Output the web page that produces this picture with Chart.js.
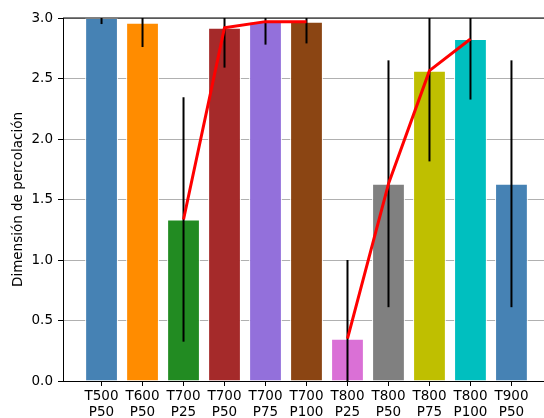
<!DOCTYPE html>
<html>
<head>
<meta charset="utf-8">
<script src="https://cdn.jsdelivr.net/npm/chart.js@4"></script>
<style>
  html, body { margin: 0; padding: 0; background: #fff; overflow: hidden; }
  #wrap { width: 544px; height: 418px; overflow: hidden; }
</style>
</head>
<body>
<div id="wrap"><canvas id="percChart" width="560" height="430"></canvas></div>
<script>
// categories (two-line labels) and values
const categories = ["T500\nP50", "T600\nP50", "T700\nP25", "T700\nP50", "T700\nP75", "T700\nP100",
                    "T800\nP25", "T800\nP50", "T800\nP75", "T800\nP100", "T900\nP50"];
const values = [3.0, 2.96, 1.335, 2.92, 2.97, 2.97, 0.35, 1.63, 2.565, 2.826, 1.63];
const errors = [0.05, 0.2, 1.01, 0.33, 0.19, 0.18, 0.65, 1.02, 0.75, 0.5, 1.02];
const barColors = ["#4682B4", "#FF8C00", "#228B22", "#A52A2A", "#9370DB", "#8B4513",
                   "#DA70D6", "#808080", "#BFBF00", "#00BFBF", "#4682B4"];
const lineGroups = [[2, 3, 4, 5], [6, 7, 8, 9]];
const yTicks = [0, 0.5, 1.0, 1.5, 2.0, 2.5, 3.0];

Chart.defaults.font.family = "'DejaVu Sans', sans-serif";
Chart.defaults.font.size = 13.5;
Chart.defaults.color = "#000";

// vertical error bars drawn right after the bars
const errorBars = {
    id: "errorBars",
    afterDatasetDraw(chart, args) {
        if (args.index !== 0) return;
        const ctx = chart.ctx;
        const area = chart.chartArea;
        const x = chart.scales.x, y = chart.scales.y;
        ctx.save();
        ctx.beginPath();
        ctx.rect(area.left, area.top, area.right - area.left, area.bottom - area.top);
        ctx.clip();
        ctx.strokeStyle = "#000";
        ctx.lineWidth = 2;
        values.forEach((v, i) => {
            const px = x.getPixelForValue(i);
            ctx.beginPath();
            ctx.moveTo(px, y.getPixelForValue(v - errors[i]));
            ctx.lineTo(px, y.getPixelForValue(v + errors[i]));
            ctx.stroke();
        });
        ctx.restore();
    }
};

// top spine
const topSpine = {
    id: "topSpine",
    afterDraw(chart) {
        const ctx = chart.ctx;
        const a = chart.chartArea;
        ctx.save();
        ctx.strokeStyle = "#000";
        ctx.lineWidth = 1;
        ctx.beginPath();
        ctx.moveTo(a.left, a.top);
        ctx.lineTo(a.right, a.top);
        ctx.stroke();
        ctx.restore();
    }
};

const datasets = [{
    type: "bar",
    data: values.map((v, i) => ({ x: i, y: v })),
    backgroundColor: barColors,
    borderColor: "#fff",
    borderWidth: 1,
    barPercentage: 1,
    categoryPercentage: 0.8,
    order: 2
}];
lineGroups.forEach(g => {
    datasets.push({
        type: "line",
        data: g.map(i => ({ x: i, y: values[i] })),
        borderColor: "#FF0000",
        borderWidth: 3,
        pointRadius: 0,
        borderJoinStyle: "round",
        fill: false,
        order: 1
    });
});

new Chart(document.getElementById("percChart"), {
    type: "bar",
    data: { datasets: datasets },
    plugins: [errorBars, topSpine],
    options: {
        responsive: false,
        animation: false,
        devicePixelRatio: 1,
        layout: { padding: { top: 18, right: 10, left: 0, bottom: 0 } },
        plugins: { legend: { display: false }, tooltip: { enabled: false } },
        scales: {
            x: {
                type: "linear",
                min: -0.94,
                max: 10.94,
                offset: false,
                grid: { display: true, drawOnChartArea: false, drawTicks: true, tickLength: 5, tickColor: "#000", offset: false },
                border: { color: "#000", width: 1 },
                afterBuildTicks: s => { s.ticks = categories.map((_, i) => ({ value: i })); },
                afterFit: s => { s.height = 49; },
                ticks: {
                    autoSkip: false,
                    maxRotation: 0,
                    padding: 2,
                    font: { lineHeight: 1.22 },
                    callback: v => categories[v] ? categories[v].split("\n") : ""
                }
            },
            y: {
                min: 0,
                max: 3,
                grid: { color: "#b0b0b0", lineWidth: 1, tickLength: 5, tickColor: "#000" },
                border: { color: "#000", width: 1 },
                afterBuildTicks: s => { s.ticks = yTicks.map(v => ({ value: v })); },
                afterFit: s => { s.width = 63; },
                ticks: { padding: 5, callback: v => v.toFixed(1) },
                title: { display: true, text: "Dimensión de percolación", padding: { top: 10, bottom: 0 } }
            }
        }
    }
});
</script>
</body>
</html>
